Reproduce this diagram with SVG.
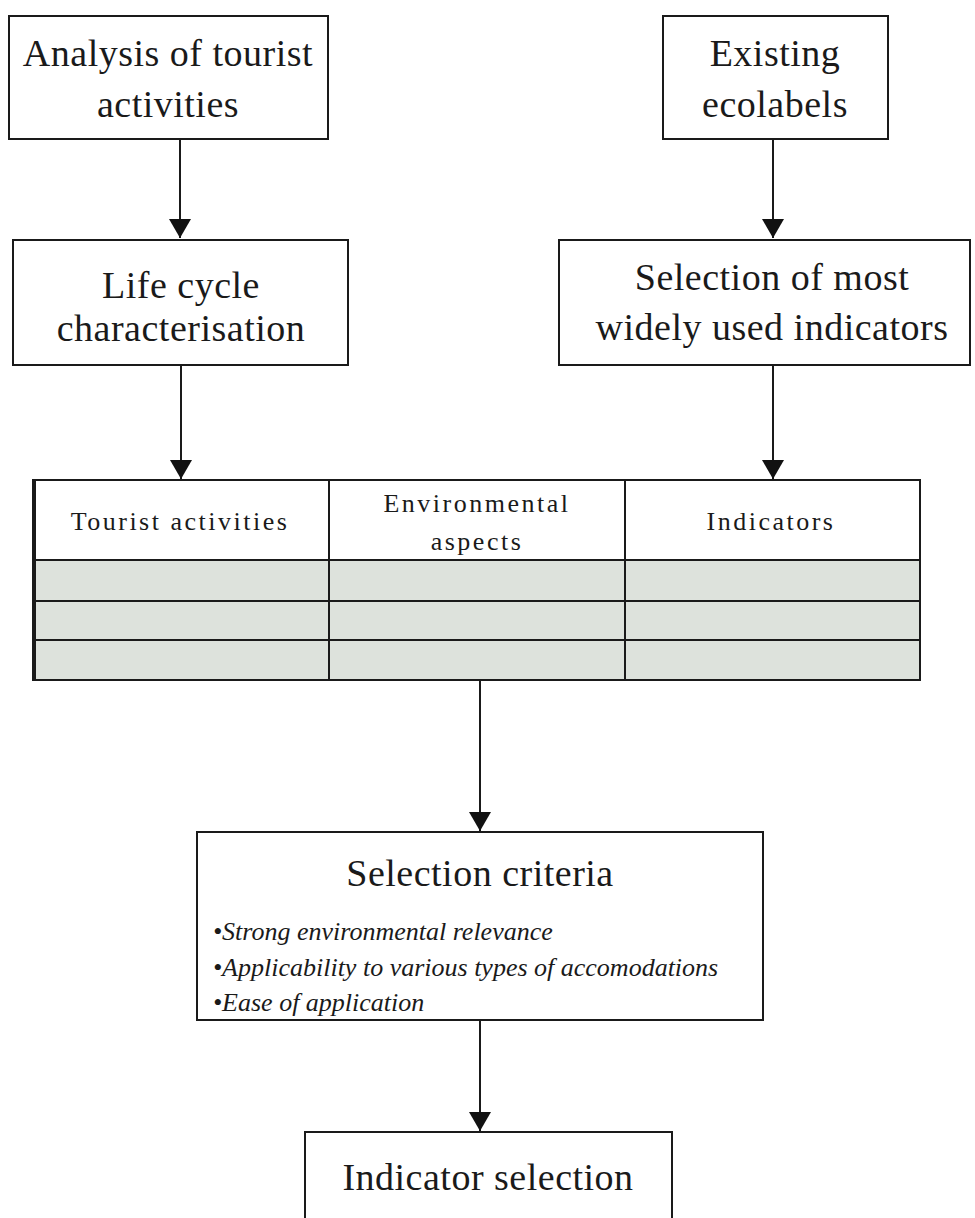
<svg xmlns="http://www.w3.org/2000/svg" width="975" height="1218" viewBox="0 0 975 1218">
<style>
.box{fill:#fff;stroke:#1a1a1a;stroke-width:2}
.t{font-family:"Liberation Serif",serif;font-size:38px;fill:#1a1a1a;text-anchor:middle;letter-spacing:0.5px}
.h{font-family:"Liberation Serif",serif;font-size:26px;fill:#1a1a1a;text-anchor:middle;letter-spacing:2.5px}
.b{font-family:"Liberation Serif",serif;font-size:26px;font-style:italic;fill:#1a1a1a}
.line{stroke:#1a1a1a;stroke-width:2;fill:none}
.cell{fill:#dde2dc;stroke:#1a1a1a;stroke-width:2}
</style>
<defs>
<marker id="ah" markerWidth="20" markerHeight="22" refX="19" refY="11" orient="auto" markerUnits="userSpaceOnUse">
<path d="M0,0 L19,11 L0,22 Z" fill="#111"/>
</marker>
</defs>
<rect width="975" height="1218" fill="#fff"/>
<g id="analysis">
<rect class="box" x="9" y="16" width="319" height="123"/>
<text class="t" x="168" y="66">Analysis of tourist</text>
<text class="t" x="168" y="117">activities</text>
</g>
<g id="ecolabels">
<rect class="box" x="663" y="16" width="225" height="123"/>
<text class="t" x="775" y="66">Existing</text>
<text class="t" x="775" y="117">ecolabels</text>
</g>
<g id="lifecycle">
<rect class="box" x="13" y="240" width="335" height="125"/>
<text class="t" x="181" y="298">Life cycle</text>
<text class="t" x="181" y="341">characterisation</text>
</g>
<g id="selection-indicators">
<rect class="box" x="559" y="240" width="411" height="125"/>
<text class="t" x="772" y="290">Selection of most</text>
<text class="t" x="772" y="340">widely used indicators</text>
</g>
<g id="table">
<rect x="33" y="480" width="887" height="80" fill="#fff" stroke="#1a1a1a" stroke-width="2"/>
<rect class="cell" x="33" y="560" width="887" height="120"/>
<line class="line" x1="33" y1="601" x2="920" y2="601"/>
<line class="line" x1="33" y1="640" x2="920" y2="640"/>
<line class="line" x1="329" y1="480" x2="329" y2="680"/>
<line class="line" x1="625" y1="480" x2="625" y2="680"/>
<line class="line" x1="35" y1="480" x2="35" y2="680"/>
<text class="h" x="180" y="530">Tourist activities</text>
<text class="h" x="477" y="512">Environmental</text>
<text class="h" x="477" y="550">aspects</text>
<text class="h" x="771" y="530">Indicators</text>
</g>
<g id="criteria">
<rect class="box" x="197" y="832" width="566" height="188"/>
<text class="t" x="480" y="886">Selection criteria</text>
<text class="b" x="213" y="940">•Strong environmental relevance</text>
<text class="b" x="213" y="976">•Applicability to various types of accomodations</text>
<text class="b" x="213" y="1011">•Ease of application</text>
</g>
<g id="indicator-selection">
<rect class="box" x="305" y="1132" width="367" height="100"/>
<text class="t" x="488" y="1190">Indicator selection</text>
</g>
<g id="connectors">
<line class="line" x1="180" y1="139" x2="180" y2="238" marker-end="url(#ah)"/>
<line class="line" x1="773" y1="139" x2="773" y2="238" marker-end="url(#ah)"/>
<line class="line" x1="181" y1="365" x2="181" y2="479" marker-end="url(#ah)"/>
<line class="line" x1="773" y1="365" x2="773" y2="479" marker-end="url(#ah)"/>
<line class="line" x1="480" y1="680" x2="480" y2="831" marker-end="url(#ah)"/>
<line class="line" x1="480" y1="1020" x2="480" y2="1131" marker-end="url(#ah)"/>
</g>
</svg>
